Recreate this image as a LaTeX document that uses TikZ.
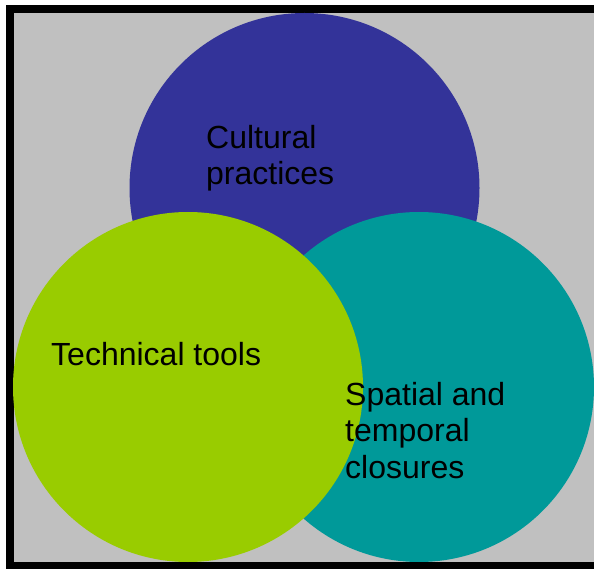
\documentclass[tikz,border=0pt]{standalone}
\usepackage{fontspec}
\setmainfont{Liberation Sans}
\definecolor{bgGray}{HTML}{C0C0C0}
\definecolor{cBlue}{HTML}{333399}
\definecolor{cGreen}{HTML}{99CC00}
\definecolor{cTeal}{HTML}{009999}
\tikzset{
  x=1pt, y=1pt,
  circ/.style={circle, minimum size=350pt, inner sep=0pt, draw=none},
  lbl/.style={anchor=base west, inner sep=0pt, align=left, font=\fontsize{32}{36.5}\selectfont, text=black}
}
\begin{document}
\begin{tikzpicture}
\useasboundingbox (0,0) rectangle (594,568);
\clip (0,0) rectangle (594,568);
\fill[white] (0,0) rectangle (594,568);
\fill[black] (6,-10) rectangle (610,563);
\fill[bgGray] (14,6) rectangle (610,555);
\node[circ, fill=cBlue] (blue) at (304.5,380) {};
\node[circ, fill=cTeal] (teal) at (419,181) {};
\node[circ, fill=cGreen] (green) at (188,181) {};
\node[lbl] (cult) at (206,383) {Cultural\\practices};
\node[lbl] (tech) at (51,203) {Technical tools};
\node[lbl] (spat) at (345,90) {Spatial and\\temporal\\closures};
\end{tikzpicture}
\end{document}
